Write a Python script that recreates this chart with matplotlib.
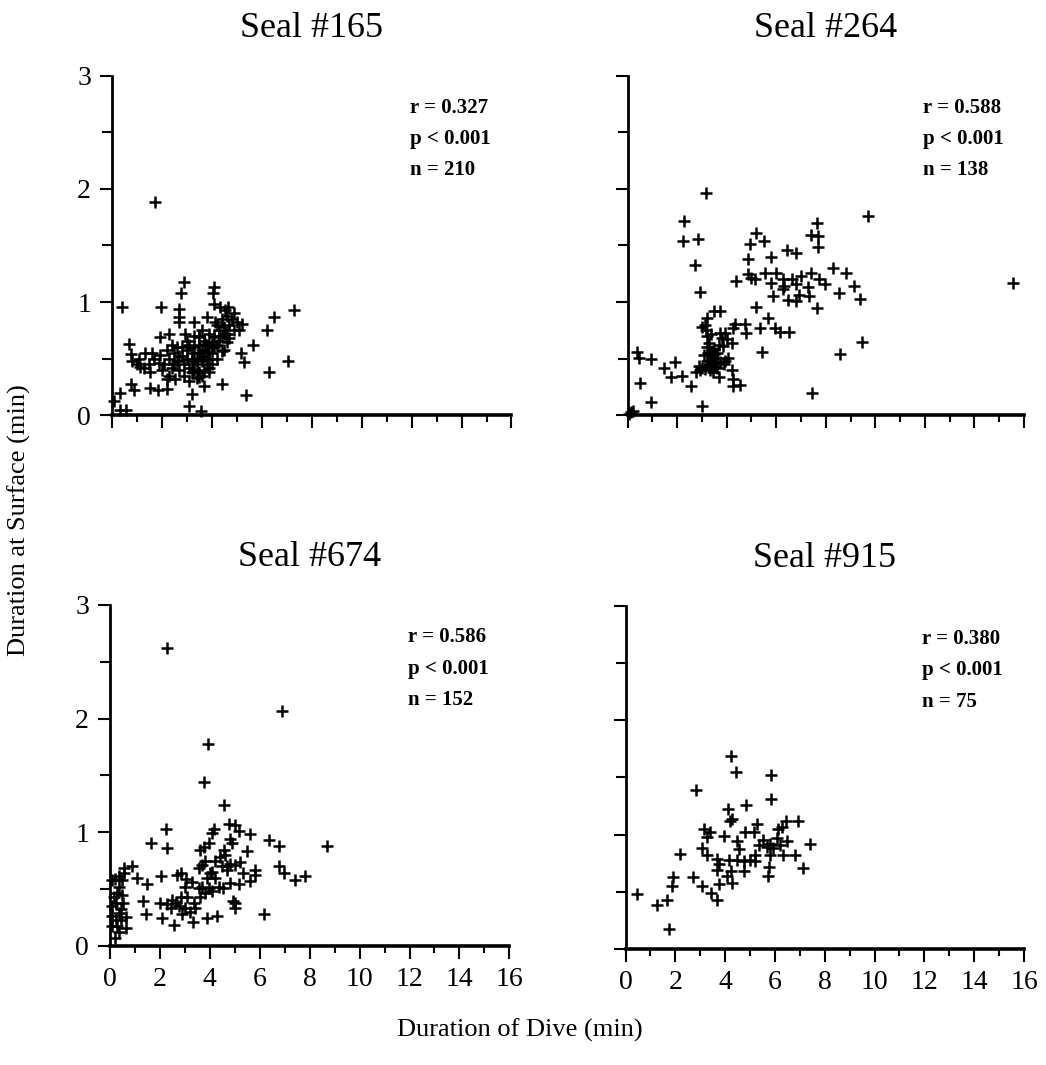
import numpy as np
import matplotlib
matplotlib.use("Agg")
import matplotlib.pyplot as plt
from matplotlib.ticker import MultipleLocator

plt.rcParams['font.family'] = ['Liberation Serif', 'DejaVu Serif']

# (dive duration, surface duration) in minutes
seal165 = [
    (1.71, 1.88), (2.9, 1.18), (2.77, 1.08), (4.1, 1.13), (4.04, 1.08), (0.4, 0.96),
    (1.96, 0.96), (2.67, 0.94), (4.1, 0.98), (4.33, 0.96), (4.64, 0.96), (4.9, 0.9),
    (5.2, 0.81), (5.07, 0.75), (6.5, 0.87), (7.3, 0.93), (6.2, 0.75), (5.63, 0.62),
    (5.17, 0.55), (5.3, 0.47), (7.07, 0.48), (6.3, 0.38), (5.37, 0.18), (4.4, 0.28),
    (3.7, 0.26), (3.2, 0.19), (3.1, 0.08), (3.56, 0.04), (0.67, 0.63), (0.77, 0.54),
    (0.8, 0.48), (0.77, 0.28), (0.9, 0.22), (1.53, 0.24), (1.84, 0.22), (2.2, 0.23),
    (0.33, 0.2), (0.07, 0.13), (0.33, 0.05), (0.57, 0.05), (1.13, 0.43), (1.33, 0.55),
    (1.6, 0.55), (1.53, 0.38), (1.93, 0.53), (1.93, 0.69), (2.27, 0.72), (2.67, 0.87),
    (2.67, 0.82), (2.93, 0.72), (3.27, 0.82), (3.8, 0.87), (4.13, 0.82), (4.53, 0.93),
    (3.47, 0.69), (3.73, 0.63), (4.0, 0.6), (4.27, 0.69), (4.53, 0.72), (4.4, 0.57),
    (3.87, 0.38), (3.47, 0.34), (2.53, 0.32), (2.2, 0.32),
    (2.1, 0.45), (2.3, 0.5), (2.4, 0.42), (2.5, 0.55), (2.6, 0.48), (2.7, 0.4),
    (2.8, 0.52), (2.9, 0.45), (3.0, 0.5), (3.0, 0.58), (3.1, 0.42), (3.1, 0.62),
    (3.2, 0.48), (3.2, 0.55), (3.3, 0.4), (3.3, 0.6), (3.4, 0.5), (3.4, 0.45),
    (3.5, 0.55), (3.5, 0.62), (3.5, 0.38), (3.6, 0.48), (3.6, 0.58), (3.7, 0.52),
    (3.7, 0.66), (3.8, 0.45), (3.8, 0.56), (3.9, 0.6), (3.9, 0.5), (4.0, 0.65),
    (4.0, 0.55), (4.1, 0.7), (4.1, 0.6), (4.2, 0.5), (4.2, 0.62), (4.3, 0.75),
    (4.3, 0.66), (4.4, 0.7), (4.5, 0.78), (4.6, 0.72), (4.7, 0.8), (4.8, 0.85),
    (3.3, 0.7), (3.6, 0.75), (3.4, 0.33), (2.9, 0.35), (3.1, 0.3), (2.6, 0.6),
    (2.4, 0.62), (2.2, 0.58), (1.9, 0.46), (1.7, 0.5), (1.5, 0.45), (1.3, 0.42),
    (1.0, 0.45), (1.1, 0.5), (2.0, 0.4), (2.3, 0.35), (3.9, 0.42), (4.5, 0.58),
    (4.6, 0.65), (3.0, 0.66), (2.8, 0.6), (3.7, 0.4), (4.0, 0.45), (3.2, 0.38),
    (3.6, 0.35), (2.5, 0.45), (4.4, 0.85), (4.2, 0.8), (3.9, 0.72), (3.5, 0.7),
    (2.7, 0.52), (3.3, 0.5), (3.8, 0.62), (4.7, 0.68), (4.9, 0.75), (5.0, 0.82),
    (4.6, 0.88),
]

seal264 = [
    (3.17, 1.96), (2.29, 1.72), (2.24, 1.54), (2.83, 1.56), (2.73, 1.33), (2.93, 1.09),
    (9.7, 1.76), (15.57, 1.17), (7.63, 1.70), (7.4, 1.59), (7.67, 1.58), (7.7, 1.49),
    (5.17, 1.61), (4.93, 1.51), (5.49, 1.54), (4.87, 1.38), (5.8, 1.40), (6.43, 1.46),
    (6.8, 1.43), (4.87, 1.25), (5.0, 1.21), (4.37, 1.19), (5.53, 1.26), (6.0, 1.26),
    (5.8, 1.17), (6.27, 1.20), (6.33, 1.14), (6.64, 1.20), (7.0, 1.23), (6.8, 1.16),
    (7.4, 1.26), (7.73, 1.20), (7.97, 1.16), (7.27, 1.13), (7.33, 1.05), (5.87, 1.05),
    (6.47, 1.02), (6.8, 1.01), (6.93, 1.06), (8.27, 1.30), (8.8, 1.26), (8.53, 1.08),
    (9.13, 1.14), (9.36, 1.03), (7.63, 0.95), (9.47, 0.65), (8.57, 0.54), (7.44, 0.20),
    (5.17, 0.96), (5.67, 0.86), (5.36, 0.77), (5.93, 0.77), (6.16, 0.74), (6.53, 0.74),
    (5.44, 0.56), (4.33, 0.81), (4.73, 0.81), (4.77, 0.73), (4.24, 0.77), (3.2, 0.86),
    (3.47, 0.92), (3.73, 0.92), (3.13, 0.80), (3.0, 0.78), (3.2, 0.70), (3.27, 0.64),
    (3.73, 0.73), (3.93, 0.73), (4.0, 0.67), (4.2, 0.64), (3.87, 0.61), (3.47, 0.59),
    (3.33, 0.53), (3.6, 0.51), (3.2, 0.48), (3.47, 0.47), (3.33, 0.44), (3.6, 0.42),
    (3.73, 0.47), (3.93, 0.48), (4.07, 0.51), (3.13, 0.41), (2.87, 0.44), (2.77, 0.38),
    (2.93, 0.40), (3.33, 0.40), (3.67, 0.34), (4.2, 0.40), (4.24, 0.32), (4.27, 0.26),
    (4.53, 0.27), (3.47, 0.54), (3.4, 0.57), (3.07, 0.53), (0.37, 0.56), (0.47, 0.51),
    (0.93, 0.50), (0.51, 0.29), (0.96, 0.12), (1.47, 0.42), (1.93, 0.47), (1.76, 0.34),
    (2.2, 0.35), (2.56, 0.26), (3.0, 0.08), (0.13, 0.03), (0.2, 0.04), (0.07, 0.01),
    (6.27, 1.12), (5.13, 1.2), (3.3, 0.45), (3.4, 0.5), (3.5, 0.46), (3.25, 0.55),
    (3.55, 0.43), (3.45, 0.38), (3.6, 0.55), (3.2, 0.6), (3.0, 0.42), (3.7, 0.62),
    (3.8, 0.68), (3.35, 0.72), (3.15, 0.75), (3.9, 0.45),
]

seal674 = [
    (2.3, 2.62), (6.9, 2.07),
    (3.93, 1.78), (3.77, 1.44), (4.57, 1.24), (4.76, 1.07), (4.16, 1.03), (2.25, 1.03),
    (1.63, 0.90), (2.27, 0.86), (5.0, 1.06), (5.63, 0.98), (5.49, 0.83), (6.36, 0.93),
    (6.76, 0.88), (8.71, 0.88), (6.76, 0.70), (6.96, 0.64), (7.43, 0.58), (7.83, 0.61),
    (6.16, 0.28), (0.89, 0.70), (1.07, 0.60), (1.47, 0.54), (2.05, 0.61), (1.33, 0.39),
    (1.43, 0.28), (2.0, 0.38), (2.07, 0.24), (2.56, 0.18), (3.32, 0.21), (3.89, 0.24),
    (4.29, 0.26), (5.0, 0.38), (5.03, 0.33), (4.93, 0.39), (4.52, 0.51), (5.16, 0.54),
    (5.32, 0.64), (5.63, 0.57), (5.83, 0.62), (5.83, 0.67),
    (0.09, 0.58), (0.2, 0.59), (0.36, 0.61), (0.56, 0.64), (0.56, 0.68), (0.49, 0.58),
    (0.36, 0.52), (0.16, 0.43), (0.29, 0.46), (0.49, 0.45), (0.52, 0.38), (0.09, 0.35),
    (0.23, 0.38), (0.36, 0.29), (0.09, 0.26), (0.23, 0.23), (0.43, 0.23), (0.63, 0.25),
    (0.29, 0.17), (0.63, 0.16), (0.36, 0.12), (0.2, 0.07), (0.09, 0.17), (0.43, 0.32),
    (2.29, 0.37), (2.43, 0.33), (2.63, 0.38), (2.76, 0.35), (3.03, 0.33), (2.83, 0.43),
    (3.09, 0.43), (3.36, 0.38), (3.43, 0.33), (2.69, 0.62), (2.83, 0.64), (3.05, 0.59),
    (3.0, 0.52), (3.56, 0.51), (3.69, 0.52), (3.96, 0.51), (4.09, 0.48), (3.83, 0.46),
    (3.63, 0.43), (4.03, 0.64), (3.56, 0.68), (3.69, 0.71), (3.83, 0.75), (3.63, 0.84),
    (3.76, 0.87), (3.96, 0.90), (4.09, 0.99), (4.56, 0.84), (4.83, 0.94), (4.89, 0.90),
    (5.16, 1.01), (4.69, 0.70), (4.83, 0.72), (5.03, 0.71), (5.23, 0.74), (4.49, 0.70),
    (4.09, 0.65), (4.36, 0.52), (4.23, 0.75), (4.4, 0.78), (4.6, 0.8), (4.7, 0.67),
    (3.9, 0.6), (3.3, 0.56), (2.5, 0.4), (2.9, 0.28), (3.2, 0.3), (4.2, 0.6), (4.8, 0.55),
]

seal915 = [
    (4.24, 1.69), (4.45, 1.55), (5.86, 1.52), (5.85, 1.31), (2.82, 1.39), (4.85, 1.26),
    (4.12, 1.22), (4.19, 1.12), (4.28, 1.14), (5.28, 1.09), (6.45, 1.12), (6.94, 1.12),
    (6.28, 1.07), (3.15, 1.05), (3.39, 1.02), (3.95, 0.99), (4.81, 1.02), (5.15, 1.02),
    (4.46, 0.94), (7.41, 0.92), (2.19, 0.83), (3.09, 0.88), (3.29, 0.82), (3.68, 0.79),
    (3.75, 0.74), (3.68, 0.69), (4.15, 0.78), (4.55, 0.87), (4.48, 0.78), (4.75, 0.77),
    (5.01, 0.78), (5.21, 0.82), (5.35, 0.91), (5.54, 0.95), (5.68, 0.89), (5.81, 0.92),
    (5.94, 0.88), (6.08, 0.97), (6.21, 0.91), (6.48, 0.94), (6.34, 0.82), (6.81, 0.82),
    (5.81, 0.82), (5.78, 0.72), (5.74, 0.64), (7.14, 0.71), (4.22, 0.68), (4.08, 0.64),
    (4.28, 0.58), (4.75, 0.68), (5.21, 0.77), (3.75, 0.57), (3.44, 0.49), (3.68, 0.43),
    (3.09, 0.55), (2.69, 0.63), (1.89, 0.63), (1.86, 0.55), (1.66, 0.43), (1.25, 0.38),
    (0.47, 0.48), (1.76, 0.17), (3.28, 0.98), (6.14, 1.05),
]

titles = ["Seal #165", "Seal #264", "Seal #674", "Seal #915"]
r_values = ["0.327", "0.588", "0.586", "0.380"]
n_values = ["210", "138", "152", "75"]
x_ticks = [0, 2, 4, 6, 8, 10, 12, 14, 16]
y_ticks = [0, 1, 2, 3]

fig = plt.figure(figsize=(10.46, 10.65), dpi=100)
positions = [
    [0.107, 0.610, 0.382, 0.319],
    [0.600, 0.610, 0.379, 0.319],
    [0.105, 0.112, 0.382, 0.320],
    [0.598, 0.109, 0.381, 0.322],
]
data = [seal165, seal264, seal674, seal915]

for i, (pos, pts) in enumerate(zip(positions, data)):
    ax = fig.add_axes(pos)
    arr = np.array(pts)
    ax.plot(arr[:, 0], arr[:, 1], '+', color='black', ms=8, mew=1.8, clip_on=False)
    ax.set_xlim(0, 16)
    ax.set_ylim(0, 3)
    for s in ['top', 'right']:
        ax.spines[s].set_visible(False)
    ax.spines['left'].set_linewidth(2)
    ax.spines['bottom'].set_linewidth(2.6)
    ax.set_xticks(x_ticks)
    ax.set_yticks(y_ticks)
    ax.xaxis.set_minor_locator(MultipleLocator(1))
    ax.yaxis.set_minor_locator(MultipleLocator(0.5))
    ax.tick_params(which='major', length=9, width=1.5, labelsize=20, pad=6)
    ax.tick_params(which='minor', length=5, width=1.5)
    ax.tick_params(axis='y', which='minor', length=7)
    if i < 2:
        ax.tick_params(labelbottom=False)
    if i % 2 == 1:
        ax.tick_params(labelleft=False)
    ax.set_title(titles[i], fontsize=26, pad=28)
    stats = [f"r = {r_values[i]}", "p < 0.001", f"n = {n_values[i]}"]
    for k, txt in enumerate(stats):
        ax.text(0.745, 0.905 - k * 0.092, txt, transform=ax.transAxes,
                fontsize=15, fontweight='bold', va='center', ha='left')

fig.text(0.018, 0.512, "Duration at Surface (min)", rotation=90,
         fontsize=19, va='center', ha='center')
fig.text(0.497, 0.033, "Duration of Dive (min)", fontsize=19, va='center', ha='center')

fig.savefig("out.png", dpi=100)
